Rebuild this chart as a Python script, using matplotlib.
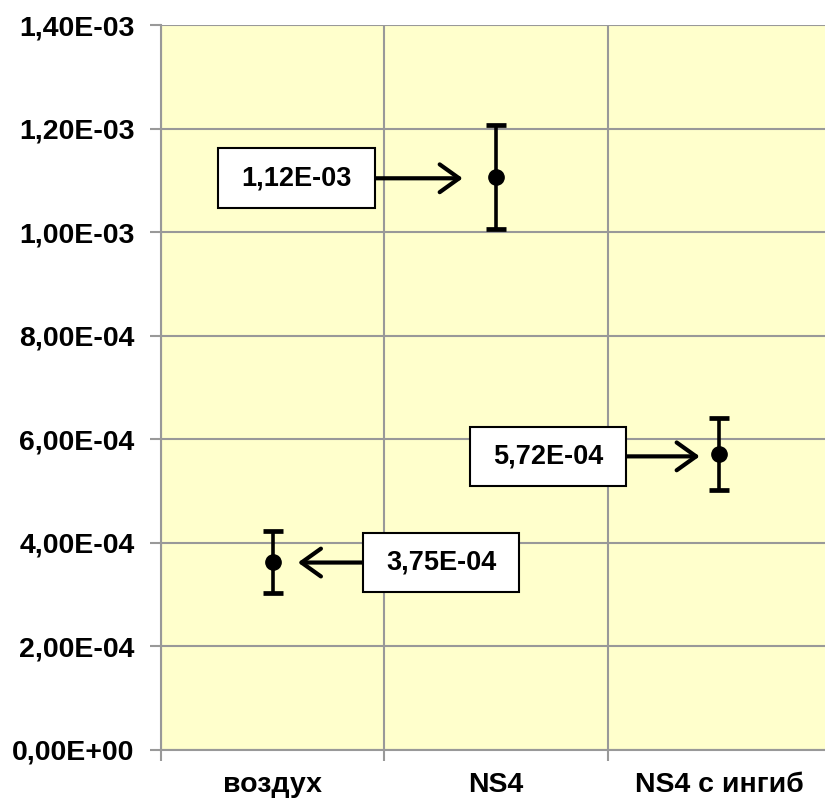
import matplotlib.pyplot as plt
from matplotlib.path import Path
from matplotlib.ticker import FuncFormatter, MultipleLocator

categories = ['воздух', 'NS4', 'NS4 с ингиб']
means = [3.63e-4, 1.106e-3, 5.72e-4]
errors = [0.59e-4, 1.0e-4, 0.70e-4]
labels = ['3,75E-04', '1,12E-03', '5,72E-04']

# where each label box sits (data coords) and where its arrow points
box_xy = [(0.755, 3.62e-4), (0.106, 11.04e-4), (1.232, 5.67e-4)]
tip_x = [0.113, 0.851, 1.912]

plt.rcParams['font.family'] = ['Liberation Sans', 'DejaVu Sans']
plt.rcParams['font.weight'] = 'bold'


def wide_box(x0, y0, width, height, mutation_size):
	# rectangle with more padding left/right than top/bottom
	px = 0.85 * mutation_size
	py = 0.62 * mutation_size
	x0, y0 = x0 - px, y0 - py
	x1, y1 = x0 + width + 2 * px, y0 + height + 2 * py
	return Path([(x0, y0), (x1, y0), (x1, y1), (x0, y1), (x0, y0)], closed=True)


fig = plt.figure(figsize=(8.25, 8), dpi=100)
ax = fig.add_axes([161 / 825, 50 / 800, 670 / 825, 725 / 800])
ax.set_facecolor('#FFFFCC')

x = list(range(len(categories)))
ax.errorbar(x, means, yerr=errors, fmt='o', color='black', ms=11,
			elinewidth=2.6, capsize=7.5, capthick=3.4, zorder=5)

ax.set_xlim(-0.5, 2.5)
ax.set_ylim(0, 1.4e-3)
ax.yaxis.set_major_locator(MultipleLocator(2e-4))
ax.yaxis.set_major_formatter(FuncFormatter(lambda v, p: ('%.2E' % v).replace('.', ',')))

ax.set_xticks([-0.5, 0.5, 1.5])
ax.set_xticklabels([])
ax.set_xticks(x, minor=True)
ax.set_xticklabels(categories, minor=True)
ax.tick_params(axis='x', which='minor', length=0, pad=16, labelsize=20.5)
ax.tick_params(axis='x', which='major', length=8, width=1.5, color='#999999')
ax.tick_params(axis='y', length=8, width=1.5, color='#999999', pad=11, labelsize=20.5)

ax.grid(True, which='major', color='#999999', linewidth=1.5)
ax.set_axisbelow(True)
for s in ['top', 'right']:
	ax.spines[s].set_visible(False)
for s in ['left', 'bottom']:
	ax.spines[s].set_color('#999999')
	ax.spines[s].set_linewidth(1.5)

for i in range(len(labels)):
	ax.annotate(labels[i], xy=(tip_x[i], box_xy[i][1]),
				xytext=box_xy[i], ha='center', va='center',
				fontsize=19.5, fontweight='bold',
				bbox=dict(boxstyle=wide_box, fc='white', ec='black', lw=1.5),
				arrowprops=dict(arrowstyle='->,head_length=0.7,head_width=0.5',
								mutation_scale=20, color='black', lw=3,
								shrinkA=0, shrinkB=0),
				zorder=6)

fig.savefig('out.png', dpi=100)
